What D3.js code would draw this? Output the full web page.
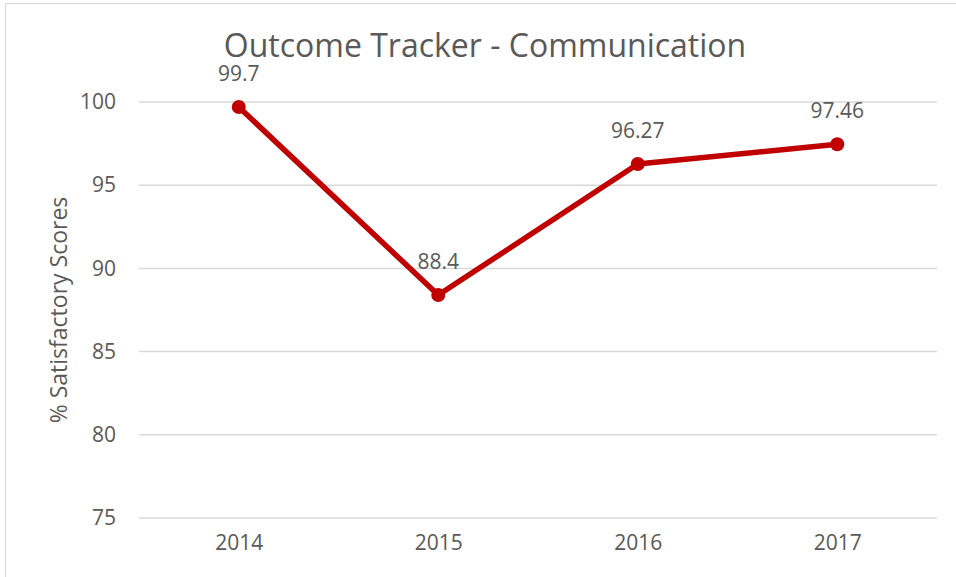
<!DOCTYPE html>
<html>
<head>
<meta charset="utf-8">
<script src="https://cdn.jsdelivr.net/npm/d3@7"></script>
<style>
  body { margin: 0; background: #fff; }
  text { font-family: "Open Sans", sans-serif; fill: #595959; }
</style>
</head>
<body>
<svg width="956" height="577"></svg>
<script>
// Chart data
var years = ['2014', '2015', '2016', '2017'];
var scores = [99.7, 88.4, 96.27, 97.46];
var yTicks = [75, 80, 85, 90, 95, 100];

var svg = d3.select('svg');
var svgWidth = +svg.attr('width');
var svgHeight = +svg.attr('height');

// Plot area
var padding = {t: 102, r: 19, b: 59, l: 139};
var chartWidth = svgWidth - padding.l - padding.r;
var chartHeight = svgHeight - padding.t - padding.b;

// Outer chart border (runs off the right and bottom of the picture)
svg.append('rect')
    .attr('x', 5.5).attr('y', 3.5)
    .attr('width', 1000).attr('height', 1000)
    .attr('fill', 'none')
    .attr('stroke', '#d9d9d9')
    .attr('stroke-width', 1);

var xScale = d3.scalePoint().domain(years).range([0, chartWidth]).padding(0.5);
var yScale = d3.scaleLinear().domain([75, 100]).range([chartHeight, 0]);

var chartG = svg.append('g')
    .attr('transform', 'translate(' + [padding.l, padding.t] + ')');

// Horizontal gridlines
chartG.selectAll('.grid')
    .data(yTicks)
    .enter().append('line')
    .attr('class', 'grid')
    .attr('x1', 0).attr('x2', chartWidth)
    .attr('y1', function(d) { return yScale(d); })
    .attr('y2', function(d) { return yScale(d); })
    .attr('stroke', '#d9d9d9')
    .attr('stroke-width', 1.5);

// Y axis labels
var yAxis = d3.axisLeft(yScale).tickValues(yTicks).tickSize(0).tickPadding(23);
chartG.append('g').call(yAxis)
    .call(function(g) { g.select('.domain').remove(); })
    .selectAll('text')
    .style('font-size', '21px')
    .style('font-family', '"Open Sans", sans-serif')
    .attr('fill', '#595959');

// X axis labels
var xAxis = d3.axisBottom(xScale).tickSize(0).tickPadding(17);
chartG.append('g')
    .attr('transform', 'translate(0,' + chartHeight + ')')
    .call(xAxis)
    .call(function(g) { g.select('.domain').remove(); })
    .selectAll('text')
    .style('font-size', '21px')
    .style('font-family', '"Open Sans", sans-serif')
    .attr('fill', '#595959');

// Series line
var line = d3.line()
    .x(function(d, i) { return xScale(years[i]); })
    .y(function(d) { return yScale(d); });

chartG.append('path')
    .datum(scores)
    .attr('d', line)
    .attr('fill', 'none')
    .attr('stroke', '#c00000')
    .attr('stroke-width', 5.5)
    .attr('stroke-linejoin', 'round');

chartG.selectAll('.dot')
    .data(scores)
    .enter().append('circle')
    .attr('class', 'dot')
    .attr('cx', function(d, i) { return xScale(years[i]); })
    .attr('cy', function(d) { return yScale(d); })
    .attr('r', 7)
    .attr('fill', '#c00000');

// Data labels
chartG.selectAll('.val')
    .data(scores)
    .enter().append('text')
    .attr('class', 'val')
    .attr('x', function(d, i) { return xScale(years[i]); })
    .attr('y', function(d) { return yScale(d) - 26; })
    .attr('text-anchor', 'middle')
    .style('font-size', '21px')
    .text(function(d) { return d; });

// Title
svg.append('text')
    .attr('x', 485).attr('y', 57)
    .attr('text-anchor', 'middle')
    .style('font-size', '32px')
    .text('Outcome Tracker - Communication');

// Y axis title
svg.append('text')
    .attr('transform', 'translate(67,310) rotate(-90)')
    .attr('text-anchor', 'middle')
    .style('font-size', '23px')
    .text('% Satisfactory Scores');
</script>
</body>
</html>
